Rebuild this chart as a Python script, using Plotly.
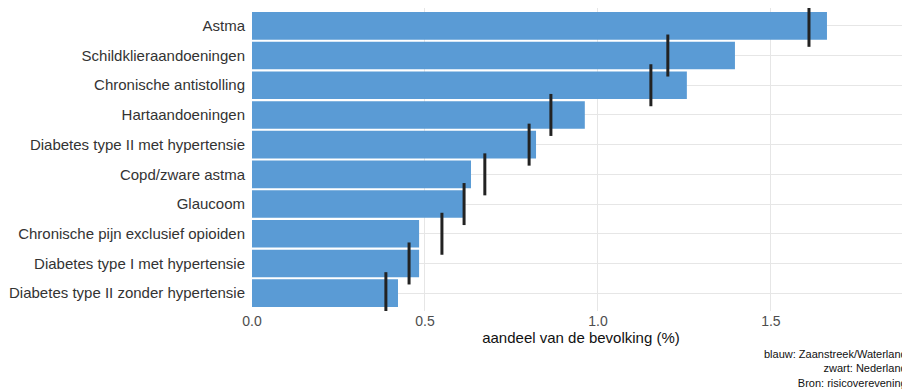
import plotly.graph_objects as go

categories = [
    "Astma",
    "Schildklieraandoeningen",
    "Chronische antistolling",
    "Hartaandoeningen",
    "Diabetes type II met hypertensie",
    "Copd/zware astma",
    "Glaucoom",
    "Chronische pijn exclusief opioiden",
    "Diabetes type I met hypertensie",
    "Diabetes type II zonder hypertensie",
]
regio_values = [1.662, 1.396, 1.257, 0.962, 0.821, 0.633, 0.610, 0.483, 0.483, 0.422]
nl_values = [1.610, 1.202, 1.153, 0.864, 0.801, 0.673, 0.613, 0.549, 0.454, 0.387]
tick_vals = [0.0, 0.5, 1.0, 1.5]
tick_text = ["0.0", "0.5", "1.0", "1.5"]
caption_lines = ["blauw: Zaanstreek/Waterland", "zwart: Nederland", "Bron: risicoverevening"]

FONT = "Liberation Sans, Arial, sans-serif"

fig = go.Figure()
fig.add_trace(go.Bar(
    y=categories, x=regio_values, orientation="h",
    marker=dict(color="#5A9BD5", line=dict(width=0)),
    width=0.93, showlegend=False, hoverinfo="x+y",
))
fig.add_trace(go.Scatter(
    y=categories, x=nl_values, mode="markers",
    marker=dict(symbol="line-ns", size=30, line=dict(width=3, color="#222222"), color="#222222"),
    showlegend=False,
))

fig.update_layout(
    width=902, height=384,
    margin=dict(l=244, r=0, t=0, b=81),
    paper_bgcolor="white", plot_bgcolor="white",
    font=dict(family=FONT, size=15, color="#222222"),
    xaxis=dict(
        range=[0, 1.902], tickvals=tick_vals, ticktext=tick_text,
        showgrid=True, gridcolor="#E6E6E6", gridwidth=1,
        zeroline=False, showline=False, ticks="", automargin=False,
        tickfont=dict(size=14, color="#4D4D4D"),
        title=dict(text="aandeel van de bevolking (%)", font=dict(size=15, color="#111111"), standoff=4),
        fixedrange=True,
    ),
    yaxis=dict(
        categoryorder="array", categoryarray=categories[::-1],
        range=[-0.6, len(categories) - 0.4],
        showgrid=True, gridcolor="#E6E6E6", gridwidth=1,
        zeroline=False, showline=False, ticks="", ticklabelstandoff=6, automargin=False,
        tickfont=dict(size=15, color="#333333"),
        fixedrange=True,
    ),
    annotations=[dict(
        xref="paper", yref="paper", x=0.9985, y=-0.264, xanchor="right", yanchor="bottom",
        text="<br>".join(caption_lines), align="right", showarrow=False,
        font=dict(size=11, color="#111111"),
    )],
)

fig.write_html("out.html")
